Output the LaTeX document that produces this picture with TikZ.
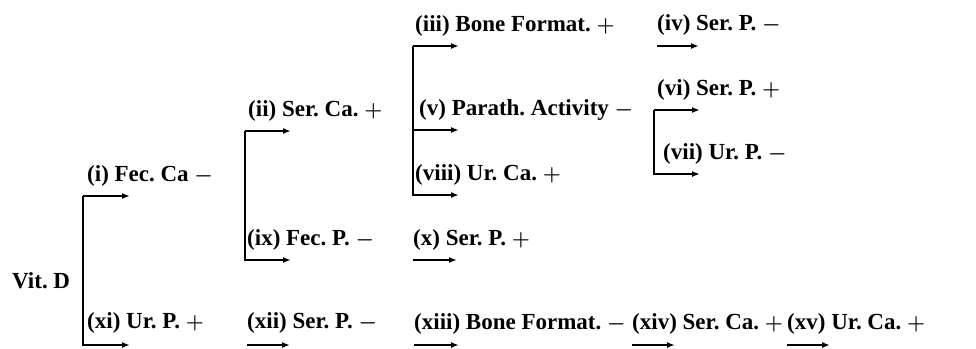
\documentclass[tikz,border=0pt]{standalone}
\usepackage{fontspec}
\setmainfont{Liberation Serif}
\usetikzlibrary{arrows.meta}
\newcommand{\pl}{{\fontsize{20}{22}\selectfont\boldmath$+$}}
\newcommand{\mn}{{\fontsize{20}{22}\selectfont\boldmath$-$}}
\tikzset{
  lbl/.style={anchor=base west, inner sep=0pt, font=\fontsize{23}{25}\selectfont\bfseries\frenchspacing},
  arr/.style={line width=1.6pt, -{Latex[length=8pt,width=6pt]}},
}
\begin{document}
\begin{tikzpicture}[x=1pt,y=-1pt]
\useasboundingbox (0,0) rectangle (976,348);
% labels
\node[lbl] (vit)  at (12,288)  {Vit. D};
\node[lbl] (i)    at (87,181)  {(i) Fec. Ca \mn};
\node[lbl] (ii)   at (248,116) {(ii) Ser. Ca. \pl};
\node[lbl] (iii)  at (415,31)  {(iii) Bone Format. \pl};
\node[lbl] (iv)   at (657,30)  {(iv) Ser. P. \mn};
\node[lbl] (v)    at (419,115) {(v) Parath. Activity \mn};
\node[lbl] (vi)   at (657,95)  {(vi) Ser. P. \pl};
\node[lbl] (vii)  at (663,159) {(vii) Ur. P. \mn};
\node[lbl] (viii) at (415,180) {(viii) Ur. Ca. \pl};
\node[lbl] (ix)   at (247,245) {(ix) Fec. P. \mn};
\node[lbl] (x)    at (413,245) {(x) Ser. P. \pl};
\node[lbl] (xi)   at (87,328)  {(xi) Ur. P. \pl};
\node[lbl] (xii)  at (247,328) {(xii) Ser. P. \mn};
\node[lbl] (xiii) at (414,329) {(xiii) Bone Format. \mn};
\node[lbl] (xiv)  at (632,329) {(xiv) Ser. Ca. \pl};
\node[lbl] (xv)   at (787,329) {(xv) Ur. Ca. \pl};
% coordinates
\coordinate (A1) at (83,196);  \coordinate (A1e) at (130,196); \coordinate (A2e) at (130,345);
\coordinate (B1) at (245,131); \coordinate (B1e) at (291,131); \coordinate (B2e) at (291,260);
\coordinate (C1) at (413,46);  \coordinate (C1e) at (459,46);
\coordinate (C2) at (413,130); \coordinate (C2e) at (459,130); \coordinate (C3e) at (459,195);
\coordinate (D1) at (654,110); \coordinate (D1e) at (700,110); \coordinate (D2e) at (700,174);
\coordinate (E1) at (657,46);  \coordinate (E1e) at (699,46);
\coordinate (F1) at (413,260); \coordinate (F1e) at (457,260);
\coordinate (G1) at (247,345); \coordinate (G1e) at (290,345);
\coordinate (H1) at (414,345); \coordinate (H1e) at (459,345);
\coordinate (K1) at (632,345); \coordinate (K1e) at (675,345);
\coordinate (L1) at (787,345); \coordinate (L1e) at (830,345);
% brackets
\draw[arr] (A1) -- (A1e);
\draw[arr] (A1) |- (A2e);
\draw[arr] (B1) -- (B1e);
\draw[arr] (B1) |- (B2e);
\draw[arr] (C1) -- (C1e);
\draw[arr] (C2) -- (C2e);
\draw[arr] (C1) |- (C3e);
\draw[arr] (D1) -- (D1e);
\draw[arr] (D1) |- (D2e);
% single arrows
\draw[arr] (E1) -- (E1e);
\draw[arr] (F1) -- (F1e);
\draw[arr] (G1) -- (G1e);
\draw[arr] (H1) -- (H1e);
\draw[arr] (K1) -- (K1e);
\draw[arr] (L1) -- (L1e);
\end{tikzpicture}
\end{document}
